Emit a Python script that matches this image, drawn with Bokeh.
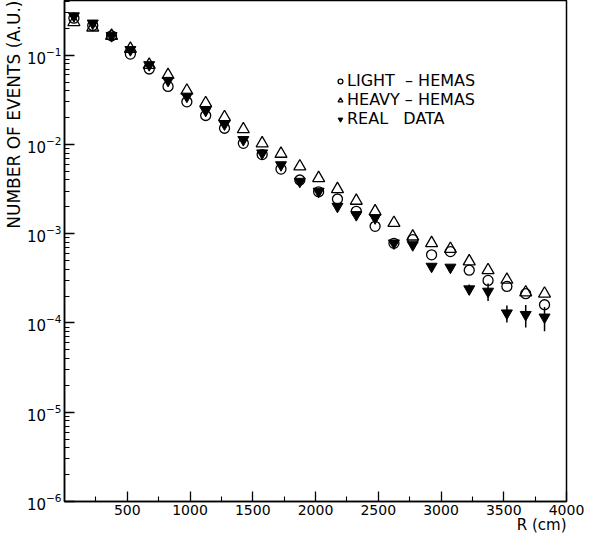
import math
from bokeh.plotting import figure
from bokeh.models import (Range1d, FixedTicker, LogTicker, Legend,
                          LegendItem, ColumnDataSource, Title)
from bokeh.embed import file_html
from bokeh.resources import INLINE

# ---- data ----
R_cm = [75, 225, 375, 525, 675, 825, 975, 1125, 1275, 1425, 1575, 1725, 1875,
        2025, 2175, 2325, 2475, 2625, 2775, 2925, 3075, 3225, 3375, 3525, 3675, 3825]

light_hemas = [0.26, 0.215, 0.165, 0.103, 0.070, 0.0447, 0.030, 0.0211, 0.0152,
               0.0103, 0.0077, 0.0053, 0.0040, 0.00295, 0.00245, 0.00178, 0.00121,
               0.00078, 0.00086, 0.00058, 0.00063, 0.00039, 0.00030, 0.000257,
               0.000213, 0.00016]

heavy_hemas = [0.235, 0.204, 0.165, 0.118, 0.078, 0.060, 0.040, 0.029, 0.0202,
               0.0148, 0.0103, 0.00786, 0.00568, 0.0042, 0.00316, 0.00234, 0.00178,
               0.00132, 0.00093, 0.000785, 0.000676, 0.00049, 0.00039, 0.000305,
               0.00022, 0.000213]

real_data = [0.275, 0.228, 0.165, 0.115, 0.078, 0.052, 0.0346, 0.024, 0.0169,
             0.0113, 0.0080, 0.0059, 0.00385, 0.00298, 0.00202, 0.00163, 0.0015,
             0.000785, 0.00075, 0.00043, 0.00042, 0.00024, 0.000226, 0.000129,
             0.000124, 0.000116]

real_err = [0.01, 0.008, 0.006, 0.004, 0.003, 0.002, 0.0012, 0.0009, 0.0007,
            0.0005, 0.0004, 0.0003, 0.0002, 0.00015, 0.0001, 0.00008, 0.00007,
            0.00004, 0.00004, 0.00003, 0.00003, 0.00003, 0.00005, 0.000028,
            0.000035, 0.000035]

x_ticks = [500, 1000, 1500, 2000, 2500, 3000, 3500, 4000]
x_minor = [250, 750, 1250, 1750, 2250, 2750, 3250, 3750]

FONT = "DejaVu Sans"

src = ColumnDataSource(dict(
    R=R_cm, light=light_hemas, heavy=heavy_hemas, real=real_data,
    lo=[v - e for v, e in zip(real_data, real_err)],
    hi=[v + e for v, e in zip(real_data, real_err)],
))

p = figure(width=590, height=536, x_range=Range1d(0, 4000),
           y_range=Range1d(1e-6, 0.41), y_axis_type="log",
           output_backend="svg", toolbar_location=None,
           min_border_left=64, min_border_right=24,
           min_border_top=0, min_border_bottom=35)

p.grid.visible = False
p.outline_line_color = "black"
p.outline_line_width = 1.5
p.background_fill_color = "white"
p.border_fill_color = "white"

# axes
p.xaxis.ticker = FixedTicker(ticks=x_ticks, minor_ticks=x_minor)
p.yaxis.ticker = LogTicker(num_minor_ticks=10)
for ax in (p.xaxis, p.yaxis):
    ax.axis_line_width = 1.5
    ax.axis_line_color = "black"
    ax.major_tick_line_color = "black"
    ax.minor_tick_line_color = "black"
    ax.major_tick_line_width = 1.3
    ax.minor_tick_line_width = 1.1
    ax.major_tick_out = 0
    ax.minor_tick_out = 0
    ax.major_tick_in = 10
    ax.minor_tick_in = 5
    ax.major_label_text_font = FONT
    ax.major_label_text_color = "black"
    ax.axis_label = None
p.xaxis.major_label_text_font_size = "14px"
p.yaxis.major_label_text_font_size = "15px"
p.xaxis.major_label_standoff = 3
p.yaxis.major_label_standoff = 3

# error bars of the real data
p.segment(x0="R", y0="lo", x1="R", y1="hi", source=src,
          line_color="black", line_width=1.5)

r_light = p.scatter("R", "light", source=src, marker="circle", size=10,
                    line_color="black", line_width=1.3, fill_color=None)
r_heavy = p.scatter("R", "heavy", source=src, marker="triangle", size=12,
                    line_color="black", line_width=1.3, fill_color=None)
r_real = p.scatter("R", "real", source=src, marker="inverted_triangle", size=11,
                   line_color="black", line_width=1.0, fill_color="black")

legend = Legend(items=[
    LegendItem(label="LIGHT  \u2013 HEMAS", renderers=[r_light]),
    LegendItem(label="HEAVY \u2013 HEMAS", renderers=[r_heavy]),
    LegendItem(label="REAL   DATA", renderers=[r_real]),
], location=(270, 373), border_line_color=None, background_fill_alpha=0,
    padding=0, margin=0, spacing=-5, glyph_width=12, glyph_height=12,
    label_height=12, label_standoff=1, label_text_font=FONT,
    label_text_font_size="16px", label_text_color="black")
p.add_layout(legend)

p.add_layout(Title(text="NUMBER OF EVENTS (A.U.)", align="right",
                   text_font=FONT, text_font_size="17px",
                   text_font_style="normal", text_color="black",
                   standoff=0), "left")
p.add_layout(Title(text="R (cm)", align="right", text_font=FONT,
                   text_font_size="15px", text_font_style="normal",
                   text_color="black", standoff=-7), "below")

open("out.html", "w").write(file_html(p, INLINE))
